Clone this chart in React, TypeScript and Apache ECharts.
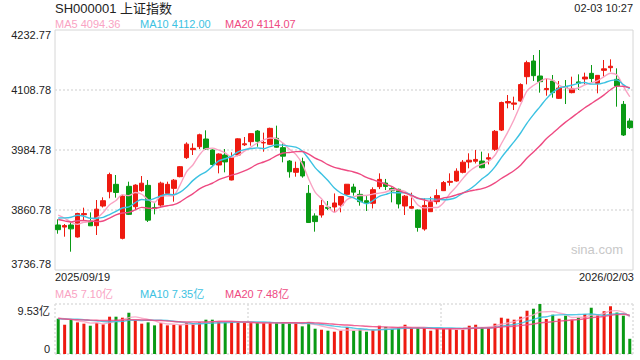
import React, { useEffect, useRef } from 'react';
import * as echarts from 'echarts';

const FONT = '"Liberation Sans", Arial, "Noto Sans CJK SC", sans-serif';
const UP = '#ee1a10';
const DOWN = '#0a9a14';
const C5 = '#f9a3c3';
const C10 = '#3cc2e2';
const C20 = '#ee4a82';
const TEXT = '#222222';

const titleText = 'SH000001 上证指数';
const timeText = '02-03 10:27';
const maLegend = ['MA5 4094.36', 'MA10 4112.00', 'MA20 4114.07'];
const volLegend = ['MA5 7.10亿', 'MA10 7.35亿', 'MA20 7.48亿'];
const priceTicks = ['3736.78', '3860.78', '3984.78', '4108.78', '4232.77'];
const volTicks = ['0', '9.53亿'];
const volMax = 9.53;

const dates = [
  '2025/09/19', '2025/09/22', '2025/09/23', '2025/09/24', '2025/09/25', '2025/09/26', '2025/09/29', '2025/09/30',
  '2025/10/09', '2025/10/10', '2025/10/13', '2025/10/14', '2025/10/15', '2025/10/16', '2025/10/17', '2025/10/20',
  '2025/10/21', '2025/10/22', '2025/10/23', '2025/10/24', '2025/10/27', '2025/10/28', '2025/10/29', '2025/10/30', '2025/10/31',
  '2025/11/03', '2025/11/04', '2025/11/05', '2025/11/06', '2025/11/07', '2025/11/10', '2025/11/11', '2025/11/12', '2025/11/13', '2025/11/14',
  '2025/11/17', '2025/11/18', '2025/11/19', '2025/11/20', '2025/11/21', '2025/11/24', '2025/11/25', '2025/11/26', '2025/11/27', '2025/11/28',
  '2025/12/01', '2025/12/02', '2025/12/03', '2025/12/04', '2025/12/05', '2025/12/08', '2025/12/09', '2025/12/10', '2025/12/11', '2025/12/12',
  '2025/12/15', '2025/12/16', '2025/12/17', '2025/12/18', '2025/12/19', '2025/12/22', '2025/12/23', '2025/12/24', '2025/12/25', '2025/12/26',
  '2025/12/29', '2025/12/30', '2025/12/31',
  '2026/01/05', '2026/01/06', '2026/01/07', '2026/01/08', '2026/01/09', '2026/01/12', '2026/01/13', '2026/01/14', '2026/01/15', '2026/01/16',
  '2026/01/19', '2026/01/20', '2026/01/21', '2026/01/22', '2026/01/23', '2026/01/26', '2026/01/27', '2026/01/28', '2026/01/29', '2026/01/30',
  '2026/02/02', '2026/02/03',
];

const opens = [
  3829.8, 3825.5, 3829.8, 3805.0, 3851.0, 3838.0, 3828.4, 3869.0, 3898.6, 3913.8,
  3802.2, 3909.7, 3867.6, 3900.7, 3911.7, 3866.0, 3871.0, 3895.0, 3905.5, 3929.7,
  3968.9, 3985.5, 3991.6, 4007.5, 3984.8, 3953.8, 3974.4, 3922.8, 3974.4, 3995.5,
  4002.0, 4024.0, 3999.5, 3996.5, 4008.9, 3989.6, 3962.0, 3938.6, 3960.7, 3895.2,
  3848.4, 3850.4, 3866.3, 3867.0, 3871.0, 3893.1, 3908.3, 3893.1, 3880.0, 3874.6,
  3909.0, 3916.5, 3905.0, 3903.5, 3869.0, 3864.5, 3860.8, 3821.5, 3857.3, 3878.0,
  3900.7, 3918.0, 3920.7, 3938.6, 3960.0, 3961.5, 3962.0, 3966.0, 3986.1, 4026.0,
  4082.0, 4079.5, 4086.0, 4136.3, 4168.7, 4137.7, 4109.5, 4127.4, 4091.5, 4116.0,
  4103.3, 4125.5, 4131.6, 4143.2, 4122.5, 4149.4, 4154.9, 4130.8, 4079.1, 4044.7,
];
const closes = [
  3820.1, 3828.6, 3821.8, 3853.6, 3853.3, 3828.1, 3862.5, 3880.0, 3934.0, 3897.0,
  3889.5, 3851.8, 3912.2, 3916.2, 3839.8, 3863.9, 3916.3, 3913.8, 3922.4, 3950.3,
  3996.9, 3988.2, 4016.3, 3986.9, 3954.8, 3976.5, 3960.2, 3969.3, 4007.8, 3997.6,
  4018.6, 4002.8, 4000.1, 4029.5, 3990.5, 3972.0, 3939.8, 3946.7, 3931.1, 3834.9,
  3836.8, 3870.0, 3864.2, 3875.3, 3888.6, 3914.0, 3897.7, 3878.0, 3875.8, 3902.8,
  3924.1, 3909.5, 3900.5, 3873.3, 3889.4, 3867.9, 3824.8, 3870.3, 3876.4, 3890.5,
  3917.4, 3920.0, 3941.0, 3959.6, 3963.7, 3965.3, 3948.2, 3968.8, 4023.4, 4083.0,
  4085.0, 4082.0, 4120.0, 4165.3, 4138.4, 4126.0, 4112.0, 4103.3, 4112.8, 4114.0,
  4112.0, 4122.8, 4135.5, 4132.5, 4139.0, 4152.5, 4157.9, 4117.0, 4015.8, 4030.9,
];
const lows = [
  3811.8, 3805.6, 3774.6, 3803.7, 3840.0, 3827.7, 3809.1, 3866.0, 3884.9, 3886.3,
  3800.1, 3850.4, 3860.8, 3898.6, 3836.0, 3851.8, 3867.6, 3894.0, 3878.0, 3928.3,
  3966.2, 3974.4, 3986.8, 3984.8, 3950.3, 3936.5, 3938.6, 3922.0, 3972.0, 3993.0,
  3993.7, 3991.6, 3981.3, 3995.0, 3989.6, 3959.3, 3927.6, 3929.6, 3927.6, 3834.6,
  3816.0, 3845.0, 3860.8, 3856.0, 3856.0, 3891.8, 3890.4, 3869.7, 3858.7, 3864.0,
  3904.0, 3902.0, 3876.6, 3864.0, 3850.4, 3863.5, 3816.0, 3818.0, 3857.0, 3872.5,
  3900.0, 3911.0, 3919.3, 3936.5, 3946.9, 3957.0, 3946.9, 3955.0, 3982.7, 4024.0,
  4070.9, 4067.4, 4084.7, 4120.5, 4127.4, 4103.3, 4097.0, 4092.9, 4090.2, 4079.8,
  4101.9, 4108.8, 4120.5, 4124.6, 4101.9, 4136.3, 4146.6, 4074.3, 4013.7, 4028.2,
];
const highs = [
  3841.5, 3831.8, 3838.0, 3855.0, 3865.6, 3855.9, 3881.4, 3887.0, 3937.9, 3933.1,
  3891.0, 3919.3, 3914.0, 3931.0, 3922.8, 3874.6, 3919.3, 3919.3, 3924.8, 3951.7,
  4000.6, 3998.5, 4018.5, 4025.4, 3986.1, 3977.9, 3986.8, 3980.0, 4008.9, 4011.6,
  4019.2, 4026.0, 4020.6, 4030.9, 4035.1, 3998.5, 3964.0, 3960.7, 3968.9, 3912.4,
  3853.9, 3881.4, 3879.4, 3895.0, 3889.6, 3914.5, 3915.0, 3902.0, 3889.7, 3907.6,
  3936.5, 3925.0, 3907.6, 3904.9, 3891.8, 3896.6, 3862.1, 3884.9, 3888.3, 3903.5,
  3920.7, 3936.5, 3946.9, 3964.0, 3977.9, 3984.8, 3981.3, 3977.9, 4026.0, 4084.7,
  4098.4, 4095.0, 4122.5, 4169.4, 4181.1, 4191.4, 4132.9, 4139.8, 4127.4, 4129.4,
  4136.3, 4141.1, 4144.6, 4160.4, 4139.8, 4170.8, 4172.1, 4153.5, 4086.0, 4050.2,
];
// closes of the 19 sessions before the first visible one (needed for the MA lines)
const priorCloses = [
  3883.56, 3868.38, 3800.35, 3843.6, 3857.93, 3875.53, 3858.13, 3813.56, 3765.88, 3812.51,
  3826.84, 3807.29, 3812.22, 3875.31, 3870.6, 3860.5, 3861.87, 3876.34, 3831.66,
];
// volumes in 亿
const volumes = [
  6.73, 5.58, 6.67, 6.03, 5.78, 5.39, 5.9, 5.65, 7.11, 7.11,
  6.92, 7.87, 6.41, 5.78, 6.03, 5.46, 5.9, 5.46, 5.58, 5.52,
  5.9, 5.9, 6.03, 6.54, 6.54, 6.16, 6.03, 6.03, 6.03, 5.9,
  6.03, 5.9, 5.9, 5.9, 5.9, 5.9, 5.9, 5.9, 5.27, 6.09,
  4.82, 4.63, 4.44, 4.25, 4.44, 5.14, 4.44, 4.63, 4.25, 4.63,
  5.39, 5.14, 4.82, 5.14, 5.58, 4.95, 4.95, 4.95, 4.44, 4.95,
  4.89, 4.95, 4.63, 4.63, 5.39, 5.58, 5.14, 4.95, 5.78, 6.92,
  6.73, 6.54, 7.11, 8.25, 8.63, 9.53, 6.67, 7.49, 6.73, 7.3,
  6.54, 6.92, 7.62, 8.82, 7.36, 8.15, 9.1, 7.9, 7.3, 2.9,
];
const priorVolumes = [
  7.9, 8.6, 7.2, 6.4, 6.1, 6.3, 6.8, 7.1, 6.2, 6.1,
  6.3, 6.8, 6.4, 6.5, 6.7, 6.6, 7.2, 7.5, 6.57,
];

function movingAverage(values: number[], prior: number[], n: number) {
  const all = prior.concat(values);
  return values.map((_, i) => {
    const end = i + prior.length;
    let s = 0;
    for (let k = end - n + 1; k <= end; k++) s += all[k];
    return +(s / n).toFixed(2);
  });
}

function buildOption() {
  const candles = dates.map((_, i) => [opens[i], closes[i], lows[i], highs[i]]);
  const volBars = volumes.map((v, i) => ({
    value: v,
    itemStyle: { color: closes[i] >= opens[i] ? UP : DOWN },
  }));
  const dotted = { color: '#dedede', type: [2, 2] as any, width: 1.5 };
  const hiddenAxis = {
    axisLine: { show: false },
    axisTick: { show: false },
    axisLabel: { show: false },
    splitLine: { show: false },
  };
  const lineSeries = (name: string, data: number[], color: string, xi: number, yi: number, opacity = 1) => ({
    type: 'line',
    name,
    data,
    xAxisIndex: xi,
    yAxisIndex: yi,
    symbol: 'none',
    smooth: 0.3,
    z: 5,
    lineStyle: { color, width: 1.4, opacity },
  });
  const txt = (text: string, x: number, y: number, fill: string, size: number, align = 'left') => ({
    type: 'text',
    x,
    y,
    silent: true,
    z: 100,
    style: {
      text,
      fill,
      font: `${size}px ${FONT}`,
      textAlign: align,
      textVerticalAlign: 'middle',
      align,
      verticalAlign: 'middle',
    },
  });
  const lastIdx = priceTicks.length - 1;

  return {
    animation: false,
    backgroundColor: '#ffffff',
    grid: [
      {
        left: 55, top: 30, width: 578, height: 240, show: true, borderColor: '#d6d6d6', borderWidth: 1,
        containLabel: false, outerBoundsMode: 'none',
      },
      { left: 55, top: 304, width: 578, height: 50, containLabel: false, outerBoundsMode: 'none' },
    ],
    xAxis: [
      { type: 'category', gridIndex: 0, data: dates, boundaryGap: true, ...hiddenAxis },
      { type: 'category', gridIndex: 1, data: dates, boundaryGap: true, ...hiddenAxis },
      {
        type: 'value', gridIndex: 1, min: 0, max: dates.length, interval: 30,
        axisLine: { show: false }, axisTick: { show: false }, axisLabel: { show: false },
        splitLine: { show: true, lineStyle: dotted },
      },
    ],
    yAxis: [
      {
        type: 'value', gridIndex: 0, position: 'right',
        min: parseFloat(priceTicks[0]), max: parseFloat(priceTicks[lastIdx]),
        ...hiddenAxis,
      },
      {
        type: 'category', gridIndex: 0, position: 'left', data: priceTicks, boundaryGap: false,
        axisLine: { show: false }, axisTick: { show: false },
        axisLabel: {
          interval: 0, margin: 4, color: TEXT, fontSize: 11, fontFamily: FONT,
          formatter: (v: string, idx: number) => (idx === 0 ? `{b|${v}}` : idx === lastIdx ? `{t|${v}}` : v),
          rich: {
            b: { padding: [0, 0, 13, 0], color: TEXT, fontSize: 11, fontFamily: FONT },
            t: { padding: [10, 0, 0, 0], color: TEXT, fontSize: 11, fontFamily: FONT },
          },
        },
        splitLine: { show: true, interval: (i: number) => i > 0 && i < lastIdx, lineStyle: dotted },
      },
      {
        type: 'value', gridIndex: 1, position: 'left', min: 0, max: volMax, interval: volMax,
        axisLine: { show: false }, axisTick: { show: false },
        axisLabel: {
          margin: 5, color: TEXT, fontSize: 11, fontFamily: FONT,
          formatter: (v: number) => (v === 0 ? `{b|${volTicks[0]}}` : `{t|${volTicks[1]}}`),
          rich: {
            b: { padding: [0, 0, 10, 0], color: TEXT, fontSize: 11, fontFamily: FONT },
            t: { padding: [14, 0, 0, 0], color: TEXT, fontSize: 11, fontFamily: FONT },
          },
        },
        splitLine: { show: true, lineStyle: dotted },
      },
    ],
    series: [
      {
        type: 'candlestick',
        xAxisIndex: 0,
        yAxisIndex: 0,
        data: candles,
        barWidth: 5,
        itemStyle: { color: UP, color0: DOWN, borderColor: UP, borderColor0: DOWN, borderWidth: 1 },
      },
      lineSeries('MA5', movingAverage(closes, priorCloses, 5), C5, 0, 0),
      lineSeries('MA10', movingAverage(closes, priorCloses, 10), C10, 0, 0),
      lineSeries('MA20', movingAverage(closes, priorCloses, 20), C20, 0, 0),
      {
        type: 'bar',
        xAxisIndex: 1,
        yAxisIndex: 2,
        data: volBars,
        barWidth: 3,
      },
      lineSeries('VMA5', movingAverage(volumes, priorVolumes, 5), C5, 1, 2, 0.85),
      lineSeries('VMA10', movingAverage(volumes, priorVolumes, 10), C10, 1, 2, 0.85),
      lineSeries('VMA20', movingAverage(volumes, priorVolumes, 20), C20, 1, 2, 0.85),
    ],
    graphic: [
      txt(titleText, 55, 8, TEXT, 13),
      txt(timeText, 633, 8, TEXT, 11, 'right'),
      txt(maLegend[0], 55, 24, C5, 11),
      txt(maLegend[1], 140, 24, C10, 11),
      txt(maLegend[2], 225, 24, C20, 11),
      txt(dates[0], 55, 277, TEXT, 11),
      txt(dates[dates.length - 1], 634, 277, TEXT, 11, 'right'),
      txt(volLegend[0], 55, 294, C5, 11),
      txt(volLegend[1], 140, 294, C10, 11),
      txt(volLegend[2], 225, 294, C20, 11),
      txt('sina.com', 623, 249, '#c8c8c8', 13, 'right'),
    ],
  };
}

export default function App() {
  const ref = useRef<HTMLDivElement>(null);
  useEffect(() => {
    if (!ref.current) return;
    const chart = echarts.init(ref.current, null, { renderer: 'svg' });
    chart.setOption(buildOption() as any);
    return () => chart.dispose();
  }, []);
  return (
    <div
      ref={ref}
      style={{ position: 'fixed', left: 0, top: 0, width: 640, height: 360, background: '#fff' }}
    />
  );
}
